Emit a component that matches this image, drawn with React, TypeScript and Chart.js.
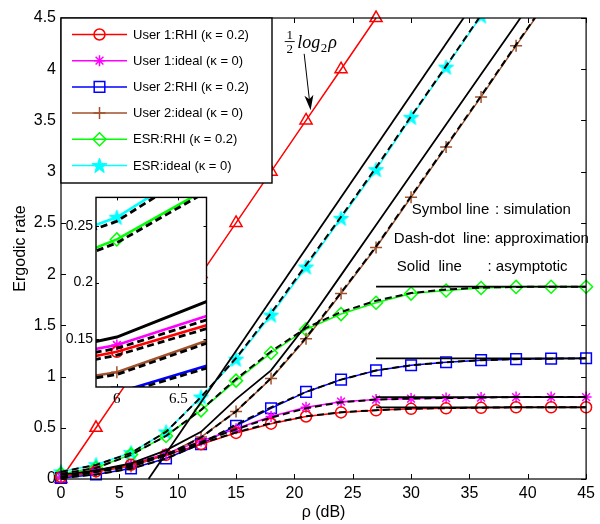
import React, { useEffect, useRef } from "react";
import { Chart, registerables } from "chart.js";

Chart.register(...registerables);

// ---------------- data ----------------
const snrDb = [0, 3, 6, 9, 12, 15, 18, 21, 24, 27, 30, 33, 36, 39, 42, 45];

const user1RhiSim = [0.02, 0.075, 0.139, 0.235, 0.34, 0.45, 0.54, 0.61, 0.65, 0.67, 0.685, 0.69, 0.695, 0.7, 0.7, 0.7];
const user1RhiApprox = [0.02, 0.072, 0.136, 0.232, 0.345, 0.455, 0.545, 0.612, 0.652, 0.672, 0.686, 0.692, 0.696, 0.7, 0.7, 0.7];

const user1IdealSim = [0.02, 0.085, 0.145, 0.25, 0.37, 0.49, 0.61, 0.7, 0.755, 0.775, 0.785, 0.79, 0.795, 0.8, 0.8, 0.8];
const user1IdealApprox = [0.02, 0.082, 0.142, 0.245, 0.362, 0.485, 0.6, 0.69, 0.75, 0.775, 0.785, 0.79, 0.795, 0.8, 0.8, 0.8];

const user2RhiSim = [0.01, 0.045, 0.103, 0.2, 0.34, 0.52, 0.69, 0.85, 0.97, 1.06, 1.11, 1.14, 1.16, 1.17, 1.175, 1.178];
const user2RhiApprox = [0.01, 0.044, 0.101, 0.198, 0.345, 0.53, 0.7, 0.85, 0.97, 1.06, 1.11, 1.14, 1.16, 1.17, 1.175, 1.178];

const user2IdealSim = [0.01, 0.07, 0.121, 0.235, 0.41, 0.66, 0.98, 1.37, 1.81, 2.26, 2.75, 3.24, 3.73, 4.23, 4.72, 5.21];
const user2IdealApprox = [0.01, 0.068, 0.119, 0.232, 0.405, 0.66, 0.985, 1.38, 1.82, 2.27, 2.76, 3.25, 3.74, 4.24, 4.73, 5.22];

const esrRhiSim = [0.05, 0.11, 0.238, 0.42, 0.67, 0.96, 1.23, 1.46, 1.61, 1.72, 1.81, 1.84, 1.865, 1.875, 1.877, 1.877];
const esrRhiApprox = [0.05, 0.108, 0.235, 0.42, 0.675, 0.975, 1.245, 1.475, 1.63, 1.74, 1.815, 1.85, 1.868, 1.875, 1.877, 1.877];

const esrIdealSim = [0.07, 0.14, 0.2575, 0.46, 0.8, 1.17, 1.6, 2.07, 2.545, 3.02, 3.53, 4.02, 4.52, 5.02, 5.52, 6.02];
const esrIdealApprox = [0.07, 0.138, 0.254, 0.46, 0.8, 1.18, 1.62, 2.09, 2.56, 3.04, 3.54, 4.03, 4.53, 5.03, 5.53, 6.03];

// reference slope line ½log2ρ
const halfLogX = [0, 3, 6, 9, 12, 15, 18, 21, 24, 27];
const halfLogY = [0, 0.5, 1, 1.5, 2, 2.5, 3, 3.5, 4, 4.5];

// asymptotes (solid black)
const esrIdealAsymX = [7.5, 45];
const esrIdealAsymY = [0, 6.25];
const user2IdealAsymX = [0, 3, 6, 9, 12, 15, 18, 21, 24, 27, 30, 33, 36, 39, 42];
const user2IdealAsymY = [0.04, 0.084, 0.152, 0.28, 0.46, 0.78, 1.06, 1.5, 1.99, 2.48, 2.97, 3.46, 3.95, 4.44, 4.93];
const ceilingX = [27, 45];
const user1RhiCeiling = [0.7, 0.7];
const user1IdealCeiling = [0.8, 0.8];
const user2RhiCeiling = [1.178, 1.178];
const esrRhiCeiling = [1.877, 1.877];

// axes
const xTicks = [0, 5, 10, 15, 20, 25, 30, 35, 40, 45];
const yTicks = [0, 0.5, 1, 1.5, 2, 2.5, 3, 3.5, 4, 4.5];
const insetXTicks = [6, 6.5];
const insetYTicks = [0.15, 0.2, 0.25];

const legendLabels = [
  "User 1:RHI (κ = 0.2)",
  "User 1:ideal (κ = 0)",
  "User 2:RHI (κ = 0.2)",
  "User 2:ideal (κ = 0)",
  "ESR:RHI (κ = 0.2)",
  "ESR:ideal (κ = 0)",
];

// ---------------- styles ----------------
const FONT = "Arial, 'Liberation Sans', Helvetica, sans-serif";
const SERIF = "'Times New Roman', 'Liberation Serif', 'DejaVu Serif', serif";

type Marker = "circle" | "star" | "rect" | "cross" | "rectRot" | "triangle" | "pentagram";

const SERIES: { label: string; color: string; marker: Marker; r: number; sim: number[]; approx: number[] }[] = [
  { label: legendLabels[0], color: "#ff0000", marker: "circle", r: 5.5, sim: user1RhiSim, approx: user1RhiApprox },
  { label: legendLabels[1], color: "#ff00ff", marker: "star", r: 5.5, sim: user1IdealSim, approx: user1IdealApprox },
  { label: legendLabels[2], color: "#0000ff", marker: "rect", r: 7.5, sim: user2RhiSim, approx: user2RhiApprox },
  { label: legendLabels[3], color: "#a0522d", marker: "cross", r: 6, sim: user2IdealSim, approx: user2IdealApprox },
  { label: legendLabels[4], color: "#00ff00", marker: "rectRot", r: 6.5, sim: esrRhiSim, approx: esrRhiApprox },
  { label: legendLabels[5], color: "#00ffff", marker: "pentagram", r: 8, sim: esrIdealSim, approx: esrIdealApprox },
];

const pts = (xs: number[], ys: number[]) => xs.map((x, i) => ({ x, y: ys[i] }));

function pentagram(color: string, r: number): HTMLCanvasElement {
  const c = document.createElement("canvas");
  const s = Math.ceil(r * 2 + 3);
  c.width = s;
  c.height = s;
  const ctx = c.getContext("2d")!;
  ctx.beginPath();
  for (let i = 0; i < 10; i++) {
    const rr = i % 2 === 0 ? r : r * 0.4;
    const a = -Math.PI / 2 + (i * Math.PI) / 5;
    ctx.lineTo(s / 2 + rr * Math.cos(a), s / 2 + 0.6 + rr * Math.sin(a));
  }
  ctx.closePath();
  ctx.fillStyle = color;
  ctx.fill();
  ctx.strokeStyle = color;
  ctx.lineWidth = 1;
  ctx.stroke();
  return c;
}

function drawMarker(ctx: CanvasRenderingContext2D, m: Marker, x: number, y: number, r: number, color: string, img: HTMLCanvasElement) {
  ctx.save();
  ctx.strokeStyle = color;
  ctx.lineWidth = 1.5;
  ctx.setLineDash([]);
  ctx.beginPath();
  if (m === "circle") {
    ctx.arc(x, y, r, 0, Math.PI * 2);
    ctx.stroke();
  } else if (m === "star") {
    for (let k = 0; k < 4; k++) {
      const a = (k * Math.PI) / 4;
      ctx.moveTo(x - r * Math.cos(a), y - r * Math.sin(a));
      ctx.lineTo(x + r * Math.cos(a), y + r * Math.sin(a));
    }
    ctx.stroke();
  } else if (m === "rect") {
    const h = r * Math.SQRT1_2;
    ctx.rect(x - h, y - h, 2 * h, 2 * h);
    ctx.stroke();
  } else if (m === "cross") {
    ctx.moveTo(x - r, y);
    ctx.lineTo(x + r, y);
    ctx.moveTo(x, y - r);
    ctx.lineTo(x, y + r);
    ctx.stroke();
  } else if (m === "rectRot") {
    ctx.moveTo(x, y - r);
    ctx.lineTo(x + r, y);
    ctx.lineTo(x, y + r);
    ctx.lineTo(x - r, y);
    ctx.closePath();
    ctx.stroke();
  } else if (m === "pentagram") {
    ctx.drawImage(img, x - img.width / 2, y - img.height / 2);
  }
  ctx.restore();
}

function buildDatasets(inset: boolean, star: HTMLCanvasElement) {
  const clip = inset ? { left: 0, top: 0, right: 0, bottom: 0 } : { left: 10, top: 0, right: 10, bottom: 10 };
  const lw = inset ? 2.6 : 1.5;
  const ds: any[] = [];
  // approximation (black dash-dot), drawn on top
  SERIES.forEach((s) =>
    ds.push({
      data: pts(snrDb, s.approx),
      borderColor: "#000",
      borderWidth: inset ? 2.8 : 2,
      borderDash: [7, 4],
      pointRadius: 0,
      clip,
    })
  );
  // asymptotes
  const asym = [
    pts(esrIdealAsymX, esrIdealAsymY),
    pts(user2IdealAsymX, user2IdealAsymY),
    pts(ceilingX, user1RhiCeiling),
    pts(ceilingX, user1IdealCeiling),
    pts(ceilingX, user2RhiCeiling),
    pts(ceilingX, esrRhiCeiling),
  ];
  asym.forEach((d) =>
    ds.push({ data: d, borderColor: "#000", borderWidth: inset ? 3 : 1.8, pointRadius: 0, clip })
  );
  // simulations
  SERIES.forEach((s) =>
    ds.push({
      data: pts(snrDb, s.sim),
      borderColor: s.color,
      borderWidth: lw,
      pointStyle: s.marker === "pentagram" ? star : s.marker,
      pointRadius: s.r,
      pointBorderColor: s.color,
      pointBackgroundColor: "rgba(0,0,0,0)",
      pointBorderWidth: 1.5,
      clip,
    })
  );
  if (!inset) {
    ds.push({
      data: pts(halfLogX, halfLogY),
      borderColor: "#ff0000",
      borderWidth: 1.5,
      pointStyle: "triangle",
      pointRadius: 7,
      pointBorderColor: "#ff0000",
      pointBackgroundColor: "rgba(0,0,0,0)",
      pointBorderWidth: 1.5,
      clip: false,
    });
  }
  return ds;
}

function drawBoxTicks(chart: any, xt: number[], yt: number[], len: number, lw: number) {
  const { ctx, chartArea: a, scales } = chart;
  ctx.save();
  ctx.strokeStyle = "#000";
  ctx.lineWidth = lw;
  ctx.setLineDash([]);
  ctx.strokeRect(a.left, a.top, a.right - a.left, a.bottom - a.top);
  ctx.lineWidth = 1;
  ctx.beginPath();
  xt.forEach((v) => {
    const px = Math.round(scales.x.getPixelForValue(v)) + 0.5;
    ctx.moveTo(px, a.bottom);
    ctx.lineTo(px, a.bottom - len);
    ctx.moveTo(px, a.top);
    ctx.lineTo(px, a.top + len);
  });
  yt.forEach((v) => {
    const py = Math.round(scales.y.getPixelForValue(v)) + 0.5;
    ctx.moveTo(a.left, py);
    ctx.lineTo(a.left + len, py);
    ctx.moveTo(a.right, py);
    ctx.lineTo(a.right - len, py);
  });
  ctx.stroke();
  ctx.restore();
}

const noGrid = { display: false, drawTicks: false, tickLength: 0 };

export default function App() {
  const mainRef = useRef<HTMLCanvasElement>(null);
  const insetRef = useRef<HTMLCanvasElement>(null);

  useEffect(() => {
    document.body.style.margin = "0";
    const star = pentagram("#00ffff", 8);

    const mainDecor = {
      id: "mainDecor",
      afterDraw(chart: any) {
        const { ctx, chartArea: a, scales } = chart;
        const X = (v: number) => scales.x.getPixelForValue(v);
        const Y = (v: number) => scales.y.getPixelForValue(v);
        drawBoxTicks(chart, xTicks, yTicks, 5, 1.2);

        // legend
        ctx.save();
        const lx = a.left, ly = a.top, lwid = 211, lht = 165;
        ctx.fillStyle = "#fff";
        ctx.fillRect(lx, ly, lwid, lht);
        ctx.strokeStyle = "#000";
        ctx.lineWidth = 1.4;
        ctx.strokeRect(lx, ly, lwid, lht);
        ctx.font = `13px ${FONT}`;
        ctx.textBaseline = "middle";
        ctx.textAlign = "left";
        SERIES.forEach((s, i) => {
          const cy = ly + 16.5 + i * 26.2;
          ctx.strokeStyle = s.color;
          ctx.lineWidth = 1.5;
          ctx.beginPath();
          ctx.moveTo(lx + 11, cy);
          ctx.lineTo(lx + 66, cy);
          ctx.stroke();
          drawMarker(ctx, s.marker, lx + 38.5, cy, s.r, s.color, star);
          ctx.fillStyle = "#000";
          ctx.fillText(s.label, lx + 72, cy + 0.5);
        });

        // ½ log2 ρ annotation
        const fx = X(19.6);
        const bar = Y(4.27);
        ctx.fillStyle = "#000";
        ctx.strokeStyle = "#000";
        ctx.textAlign = "center";
        ctx.textBaseline = "alphabetic";
        ctx.font = `13px ${SERIF}`;
        ctx.fillText("1", fx, bar - 2.5);
        ctx.fillText("2", fx, bar + 11);
        ctx.lineWidth = 0.9;
        ctx.beginPath();
        ctx.moveTo(fx - 5, bar);
        ctx.lineTo(fx + 5, bar);
        ctx.stroke();
        ctx.textAlign = "left";
        ctx.font = `italic 18px ${SERIF}`;
        const lgX = X(20.25);
        const base = bar + 6;
        ctx.fillText("log", lgX, base);
        const w1 = ctx.measureText("log").width;
        ctx.font = `13px ${SERIF}`;
        ctx.fillText("2", lgX + w1 + 0.5, base + 4);
        const w2 = ctx.measureText("2").width;
        ctx.font = `italic 18px ${SERIF}`;
        ctx.fillText("ρ", lgX + w1 + w2 + 1.5, base);

        // arrow
        const tx = X(20.84), ty = Y(4.15), hx = X(21.39), hy = Y(3.6);
        const ang = Math.atan2(hy - ty, hx - tx);
        ctx.lineWidth = 1;
        ctx.beginPath();
        ctx.moveTo(tx, ty);
        ctx.lineTo(hx - 10 * Math.cos(ang), hy - 10 * Math.sin(ang));
        ctx.stroke();
        ctx.beginPath();
        ctx.moveTo(hx, hy);
        ctx.lineTo(hx - 15 * Math.cos(ang) + 4.5 * Math.sin(ang), hy - 15 * Math.sin(ang) - 4.5 * Math.cos(ang));
        ctx.lineTo(hx - 11 * Math.cos(ang), hy - 11 * Math.sin(ang));
        ctx.lineTo(hx - 15 * Math.cos(ang) - 4.5 * Math.sin(ang), hy - 15 * Math.sin(ang) + 4.5 * Math.cos(ang));
        ctx.closePath();
        ctx.fill();

        // explanation text
        ctx.font = `15px ${FONT}`;
        ctx.textBaseline = "middle";
        ctx.fillText("Symbol line", X(30.06), Y(2.626));
        ctx.fillText(": simulation", X(37.2), Y(2.626));
        ctx.fillText("Dash-dot  line: approximation", X(28.52), Y(2.343));
        ctx.fillText("Solid  line", X(28.78), Y(2.07));
        ctx.fillText(": asymptotic", X(36.55), Y(2.07));
        ctx.restore();
      },
    };

    const main = new Chart(mainRef.current!, {
      type: "line",
      data: { datasets: buildDatasets(false, star) },
      options: {
        responsive: false,
        maintainAspectRatio: false,
        animation: false,
        events: [],
        layout: { padding: { top: 18, right: 12, left: 0, bottom: 0 } },
        plugins: { legend: { display: false }, tooltip: { enabled: false } },
        scales: {
          x: {
            type: "linear",
            min: 0,
            max: 45,
            grid: noGrid,
            border: { display: false },
            afterBuildTicks: (ax: any) => {
              ax.ticks = xTicks.map((value) => ({ value }));
            },
            afterFit: (ax: any) => {
              ax.height = 45;
            },
            ticks: {
              color: "#000",
              font: { family: FONT, size: 16 },
              padding: 5,
              maxRotation: 0,
              callback: (v: any) => String(v),
            },
            title: {
              display: true,
              text: "ρ (dB)",
              color: "#000",
              font: { family: FONT, size: 16 },
              padding: { top: 0, bottom: 2 },
            },
          },
          y: {
            type: "linear",
            min: 0,
            max: 4.5,
            grid: noGrid,
            border: { display: false },
            afterBuildTicks: (ax: any) => {
              ax.ticks = yTicks.map((value) => ({ value }));
            },
            afterFit: (ax: any) => {
              ax.width = 61;
            },
            ticks: {
              color: "#000",
              font: { family: FONT, size: 16 },
              padding: 5,
              callback: (v: any) => String(v),
            },
            title: {
              display: true,
              text: "Ergodic rate",
              color: "#000",
              font: { family: FONT, size: 16 },
              padding: { top: 11, bottom: 0 },
            },
          },
        },
      } as any,
      plugins: [mainDecor],
    });

    const insetDecor = {
      id: "insetDecor",
      beforeDatasetsDraw(chart: any) {
        const { ctx, chartArea: a } = chart;
        ctx.save();
        ctx.fillStyle = "#fff";
        ctx.fillRect(a.left, a.top, a.right - a.left, a.bottom - a.top);
        ctx.restore();
      },
      afterDraw(chart: any) {
        drawBoxTicks(chart, insetXTicks, insetYTicks, 3, 1.4);
      },
    };

    const inset = new Chart(insetRef.current!, {
      type: "line",
      data: { datasets: buildDatasets(true, star) },
      options: {
        responsive: false,
        maintainAspectRatio: false,
        animation: false,
        events: [],
        layout: { padding: { top: 10, right: 9, left: 0, bottom: 0 } },
        plugins: { legend: { display: false }, tooltip: { enabled: false } },
        scales: {
          x: {
            type: "linear",
            min: 5.83,
            max: 6.73,
            grid: noGrid,
            border: { display: false },
            afterBuildTicks: (ax: any) => {
              ax.ticks = insetXTicks.map((value) => ({ value }));
            },
            afterFit: (ax: any) => {
              ax.height = 29;
            },
            ticks: {
              color: "#000",
              font: { family: SERIF, size: 15 },
              padding: 3,
              maxRotation: 0,
              callback: (v: any) => String(v),
            },
          },
          y: {
            type: "linear",
            min: 0.108,
            max: 0.275,
            grid: noGrid,
            border: { display: false },
            afterBuildTicks: (ax: any) => {
              ax.ticks = insetYTicks.map((value) => ({ value }));
            },
            afterFit: (ax: any) => {
              ax.width = 40;
            },
            ticks: {
              color: "#000",
              font: { family: FONT, size: 14 },
              padding: 3,
              callback: (v: any) => String(v),
            },
          },
        },
      } as any,
      plugins: [insetDecor],
    });

    return () => {
      main.destroy();
      inset.destroy();
    };
  }, []);

  return (
    <div style={{ position: "fixed", left: 0, top: 0, width: 600, height: 524, overflow: "hidden", background: "#fff" }}>
      <canvas ref={mainRef} width={600} height={524} style={{ display: "block", position: "absolute", left: 0, top: 0 }} />
      <canvas ref={insetRef} width={160} height={230} style={{ display: "block", position: "absolute", left: 56, top: 186 }} />
    </div>
  );
}
